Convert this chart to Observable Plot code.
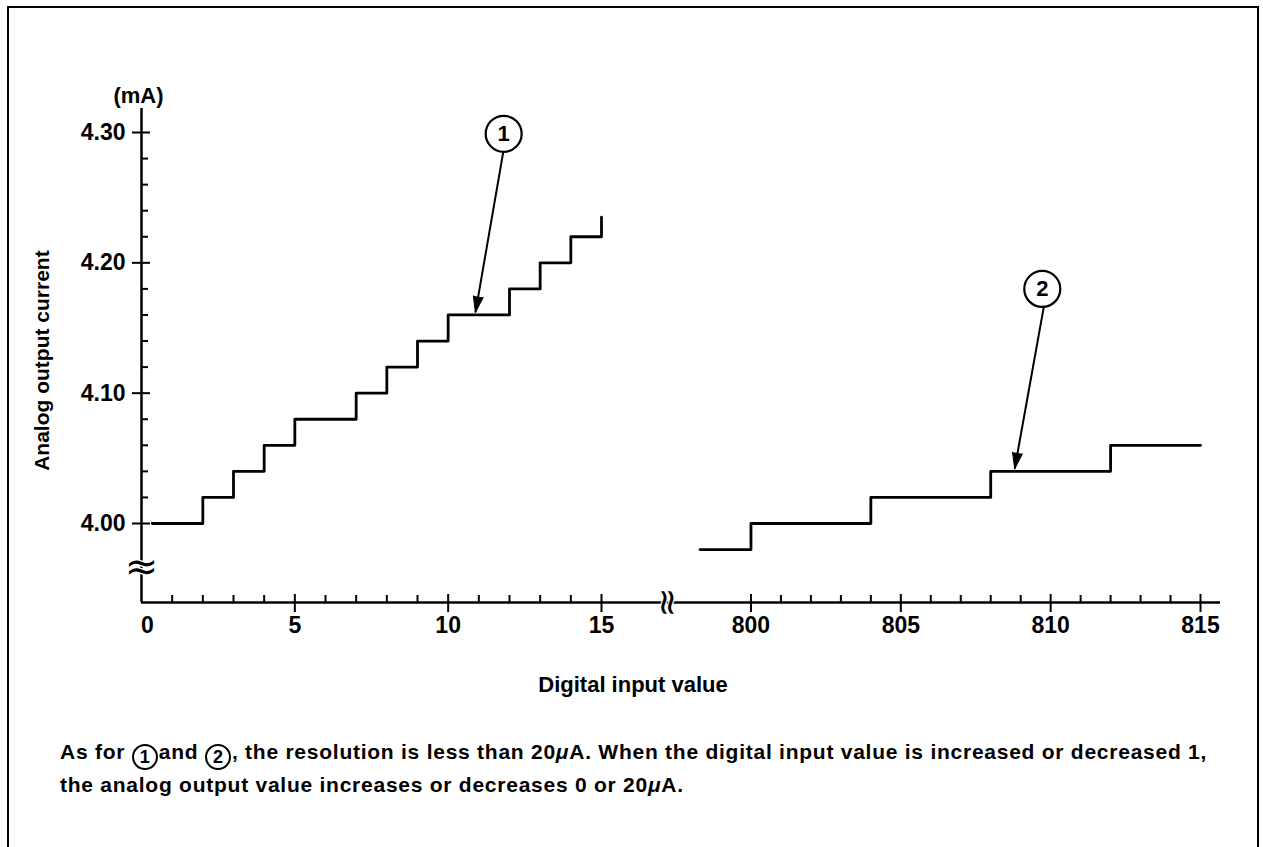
<!DOCTYPE html>
<html>
<head>
<meta charset="utf-8">
<script src="https://cdn.jsdelivr.net/npm/d3@7"></script>
<script src="https://cdn.jsdelivr.net/npm/@observablehq/plot@0.6"></script>
<style>
  html, body { margin: 0; padding: 0; background: #fff; }
  body { width: 1263px; height: 847px; position: relative; overflow: hidden;
         font-family: "Liberation Sans", Arial, sans-serif; color: #000; }
  #frame { position: absolute; left: 7px; top: 6px; width: 1248px; height: 900px;
           border: 2.5px solid #000; border-bottom: none; }
  #chart { position: absolute; left: 0; top: 0; }
  #xlabel { position: absolute; top: 671px; left: 433px; width: 400px; text-align: center;
            font-size: 22px; font-weight: bold; line-height: 28px; }
  #caption { position: absolute; top: 737px; left: 60px; width: 1195px; white-space: nowrap;
             font-size: 21px; font-weight: bold; line-height: 30px; letter-spacing: 0.75px; }
  .c { display: inline-block; width: 22px; height: 22px; border: 2px solid #000; border-radius: 50%;
       text-align: center; line-height: 22px; font-size: 18px; font-weight: bold; letter-spacing: 0;
       vertical-align: -4px; margin-right: 1px; }
</style>
</head>
<body>
<div id="frame"></div>
<div id="chart"></div>
<div id="xlabel">Digital input value</div>
<div id="caption">As for <span class="c">1</span>and <span class="c">2</span>, the resolution is less than 20<i>μ</i>A. When the digital input value is increased or decreased 1,<br>the analog output value increases or decreases 0 or 20<i>μ</i>A.</div>
<script>
// ---- data ----
const leftX  = [0.35, 2, 3, 4, 5, 7, 8, 9, 10, 12, 13, 14, 15];
const leftY  = [4.00, 4.02, 4.04, 4.06, 4.08, 4.10, 4.12, 4.14, 4.16, 4.18, 4.20, 4.22, 4.235];
const rightX = [798.3, 800, 804, 808, 812, 815];
const rightY = [3.98, 4.00, 4.02, 4.04, 4.06, 4.06];

const xMajorTicks = [0, 5, 10, 15, 800, 805, 810, 815];
const xMinorTicks = [1, 2, 3, 4, 6, 7, 8, 9, 11, 12, 13, 14,
                     801, 802, 803, 804, 806, 807, 808, 809, 811, 812, 813, 814];
const yMajorTicks = [4.00, 4.10, 4.20, 4.30];
const yMinorTicks = [4.02, 4.04, 4.06, 4.08, 4.12, 4.14, 4.16, 4.18, 4.22, 4.24, 4.26, 4.28];

const calloutLabels = ["1", "2"];
const calloutCx = [11.81, 809.72];
const calloutCy = [4.299, 4.180];
const arrowX1 = [11.80, 809.77];
const arrowY1 = [4.2855, 4.166];
const arrowX2 = [10.89, 808.80];
const arrowY2 = [4.162, 4.042];

const yTitle = "Analog output current";
const yUnit = "(mA)";

// ---- scales / layout (broken x axis: two linear pieces) ----
const xDomain = [0, 15, 796, 815];
const xRange = [141, 601, 630.6, 1200];
const yDomain = [4.0, 4.3];
const yRange = [523, 132];
const pxPerY = (yRange[0] - yRange[1]) / (yDomain[1] - yDomain[0]);
const pxPerX = (xRange[1] - xRange[0]) / (xDomain[1] - xDomain[0]);
const axisBottom = yDomain[0] - (602 - yRange[0]) / pxPerY;
const axisTop = yDomain[0] + (yRange[0] - 108) / pxPerY;
const axisRight = 815.67;
const xBreak = 797.2;
const yBreak = yDomain[0] - (567 - yRange[0]) / pxPerY;

const leftSteps = leftX.map((x, i) => ({x, y: leftY[i]}));
const rightSteps = rightX.map((x, i) => ({x, y: rightY[i]}));
const callouts = calloutLabels.map((label, i) => ({
  label, cx: calloutCx[i], cy: calloutCy[i],
  x1: arrowX1[i], y1: arrowY1[i], x2: arrowX2[i], y2: arrowY2[i]
}));

const font = {fontFamily: "Liberation Sans, Arial, sans-serif", fontWeight: "bold"};
const breakFont = {fontFamily: "DejaVu Sans, sans-serif", fontWeight: "normal"};

const chart = Plot.plot({
  width: 1263,
  height: 640,
  margin: 0,
  style: {background: "transparent", overflow: "visible"},
  x: {type: "linear", domain: xDomain, range: xRange, axis: null},
  y: {type: "linear", domain: yDomain, range: yRange, axis: null},
  marks: [
    // axes
    Plot.ruleY([axisBottom], {x1: 0, x2: axisRight, stroke: "black", strokeWidth: 2.5}),
    Plot.ruleX([0], {y1: axisBottom, y2: axisTop, stroke: "black", strokeWidth: 2.5}),
    Plot.ruleX(xMinorTicks, {y1: axisBottom, y2: axisBottom + 7 / pxPerY, stroke: "black", strokeWidth: 2}),
    Plot.ruleX(xMajorTicks.filter(d => d !== 0), {y1: axisBottom - 10 / pxPerY, y2: axisBottom + 8 / pxPerY, stroke: "black", strokeWidth: 2}),
    Plot.ruleY(yMinorTicks, {x1: 0, x2: 7 / pxPerX, stroke: "black", strokeWidth: 2}),
    Plot.ruleY(yMajorTicks, {x1: -9 / pxPerX, x2: 9 / pxPerX, stroke: "black", strokeWidth: 2}),
    // break marks
    Plot.text(["≈"], {x: 0, y: yBreak, text: d => d, fontSize: 40, ...breakFont,
      fill: "black", stroke: "white", strokeWidth: 2.5, paintOrder: "stroke"}),
    Plot.text(["≈"], {x: xBreak, y: axisBottom, text: d => d, fontSize: 36, rotate: 90, ...breakFont,
      fill: "black", stroke: "white", strokeWidth: 2.5, paintOrder: "stroke"}),
    // tick labels
    Plot.text(xMajorTicks.filter(d => d !== 0), {x: d => d, y: axisBottom, dy: 23, text: d => String(d), fontSize: 23, ...font}),
    Plot.text([0], {x: d => d, y: axisBottom, dy: 23, dx: 6, text: d => String(d), fontSize: 23, ...font}),
    Plot.text(yMajorTicks, {x: 0, y: d => d, dx: -16, textAnchor: "end", text: d => d.toFixed(2), fontSize: 23, ...font}),
    Plot.text([yUnit], {x: 0, y: axisTop, dy: -13, dx: -3, text: d => d, fontSize: 22, ...font}),
    Plot.text([yTitle], {x: -3.23, y: 4.125, rotate: -90, text: d => d, fontSize: 21, ...font}),
    // step lines
    Plot.line(leftSteps, {x: "x", y: "y", curve: "step-after", stroke: "black", strokeWidth: 2.8}),
    Plot.line(rightSteps, {x: "x", y: "y", curve: "step-after", stroke: "black", strokeWidth: 2.8}),
    // callouts
    Plot.link(callouts, {x1: "x1", y1: "y1", x2: "x2", y2: "y2", stroke: "black", strokeWidth: 2}),
    Plot.vector(callouts, {x: "x2", y: "y2", length: 16, rotate: 190, shape: "spike", anchor: "end", r: 5,
      fill: "black", stroke: "black", strokeWidth: 1}),
    Plot.dot(callouts, {x: "cx", y: "cy", r: 18, stroke: "black", strokeWidth: 2.2, fill: "white"}),
    Plot.text(callouts, {x: "cx", y: "cy", text: "label", fontSize: 22, ...font})
  ]
});
document.getElementById("chart").appendChild(chart);
</script>
</body>
</html>
